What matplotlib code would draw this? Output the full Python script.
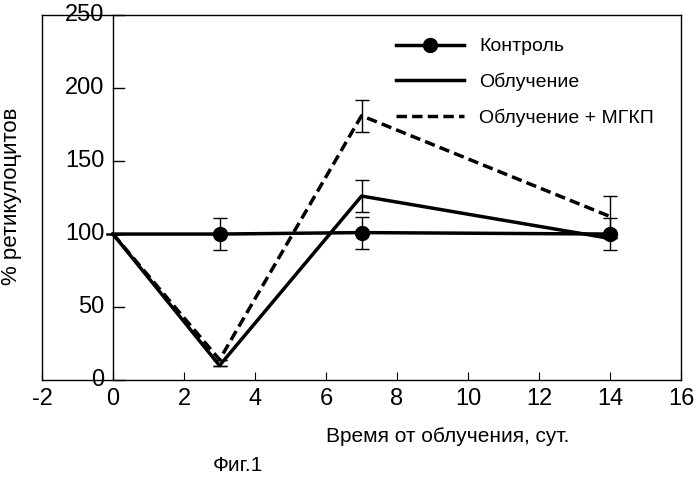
import matplotlib
matplotlib.use("Agg")
import matplotlib.pyplot as plt

days = [0, 3, 7, 14]
control = [100, 100, 101, 100]
control_err = [0, 11, 11, 11]
irrad = [100, 10, 126, 97]
irrad_err = [0, 0, 11, 0]
mgkp = [100, 14, 181, 112]
mgkp_err = [0, 0, 11, 14]
xticks = [-2, 0, 2, 4, 6, 8, 10, 12, 14, 16]
yticks = [0, 50, 100, 150, 200, 250]

plt.rcParams["font.family"] = "Liberation Sans"
plt.rcParams["axes.unicode_minus"] = False
fig = plt.figure(figsize=(7, 4.8), dpi=100)
ax = fig.add_axes([0.06, 0.208, 0.913, 0.761])
ax.set_xlim(-2, 16)
ax.set_ylim(0, 250)

ax.errorbar(days, control, yerr=control_err, fmt="none", ecolor="black", elinewidth=1, capsize=5)
ax.errorbar(days, irrad, yerr=irrad_err, fmt="none", ecolor="black", elinewidth=1, capsize=5)
ax.errorbar(days, mgkp, yerr=mgkp_err, fmt="none", ecolor="black", elinewidth=1, capsize=5)
ax.plot(days, control, color="black", lw=2.5, marker="o", ms=10, markevery=[1, 2, 3],
        label="Контроль", zorder=3)
ax.plot(days, irrad, color="black", lw=2.5, label="Облучение")
ax.plot(days, mgkp, color="black", lw=2.5, ls="--", dashes=(3, 1.5), label="Облучение + МГКП")

ax.axvline(0, color="black", lw=1)
ax.set_xticks(xticks)
ax.set_yticks(yticks)
ax.tick_params(axis="x", direction="in", length=6, labelsize=17, pad=6)
ax.tick_params(axis="y", left=False, labelleft=False)
for y in yticks:
    ax.plot([0, 0.3], [y, y], color="black", lw=1, clip_on=False)
    ax.text(-0.25, y, str(y), ha="right", va="center", fontsize=17)
for s in ax.spines.values():
    s.set_linewidth(1)

ax.legend(loc="upper right", frameon=False, fontsize=14, handlelength=3.5,
          bbox_to_anchor=(0.985, 0.985), labelspacing=0.9)
fig.text(0.017, 0.59, "% ретикулоцитов", rotation=90, ha="center", va="center", fontsize=16)
fig.text(0.64, 0.09, "Время от облучения, сут.", ha="center", va="center", fontsize=15)
fig.text(0.34, 0.03, "Фиг.1", ha="center", va="center", fontsize=15)
fig.savefig("out.png", dpi=100)
